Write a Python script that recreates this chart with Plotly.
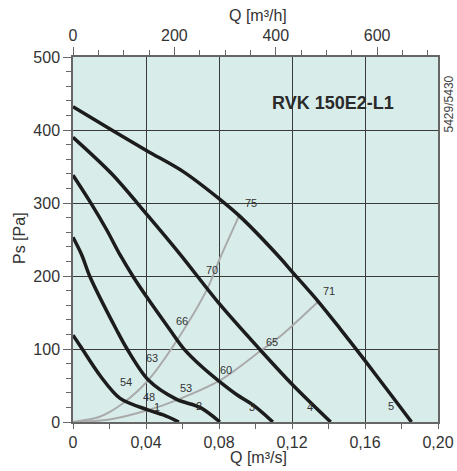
import plotly.graph_objects as go

# ---- data ----
c1_q = [0, 0.0048, 0.015, 0.0258, 0.0413, 0.0495, 0.0580]
c1_p = [119, 101, 63, 32.4, 16.4, 9.6, 0]
c2_q = [0, 0.0048, 0.0093, 0.0239, 0.0294, 0.0413, 0.0568, 0.0696, 0.0805]
c2_p = [253, 228.8, 199, 126, 101, 57.5, 31, 20, 0]
c3_q = [0, 0.0093, 0.0185, 0.0258, 0.033, 0.0409, 0.0532, 0.0605, 0.0705, 0.0805, 0.0900, 0.0988, 0.1095]
c3_p = [338, 301.8, 263, 228.8, 199, 169.4, 126, 101, 76, 55, 37, 23, 0]
c4_q = [0, 0.0212, 0.0409, 0.0586, 0.0805, 0.1025, 0.1207, 0.1412]
c4_p = [390, 340, 283, 230, 161, 99, 50, 0]
c5_q = [0, 0.0212, 0.0409, 0.0604, 0.0805, 0.0913, 0.1134, 0.1207, 0.1344, 0.1463, 0.16, 0.1737, 0.1855]
c5_p = [432, 400, 371, 343, 305, 282, 225, 204, 165, 128, 84, 39, 0]
curves_q = [c1_q, c2_q, c3_q, c4_q, c5_q]
curves_p = [c1_p, c2_p, c3_p, c4_p, c5_p]

sysA_q = [0, 0.015, 0.0276, 0.0413, 0.0541, 0.0733, 0.0805, 0.0911]
sysA_p = [0, 7.5, 26, 57.5, 101, 181, 224, 283]
sysB_q = [0, 0.02, 0.0413, 0.0568, 0.0805, 0.1034, 0.1134, 0.1344]
sysB_p = [0, 3.5, 16.4, 30, 57, 98.6, 117, 165]

label_text = ["75", "70", "66", "63", "54", "48", "1", "53", "2", "60", "3", "65", "4", "71", "5"]
label_q = [0.0974, 0.076, 0.0595, 0.0431, 0.029, 0.0418, 0.0462, 0.0619, 0.0692, 0.0838, 0.0979, 0.1089, 0.1299, 0.1405, 0.1742]
label_p = [299.6, 208, 139, 87, 55, 34.7, 21, 46, 22, 71, 21, 109, 21, 179.5, 22]

x_tickvals = [0, 0.04, 0.08, 0.12, 0.16, 0.20]
x_ticktext = ["0", "0,04", "0,08", "0,12", "0,16", "0,20"]
y_tickvals = [0, 100, 200, 300, 400, 500]
top_tickvals = [0, 200, 400, 600]

FONT = "Liberation Sans, Arial, sans-serif"
TXT = "#333333"

fig = go.Figure()
for q, p in [(sysA_q, sysA_p), (sysB_q, sysB_p)]:
    fig.add_trace(go.Scatter(x=q, y=p, mode="lines", line=dict(color="#aaaaaa", width=2, shape="spline", smoothing=0.9),
                             hoverinfo="skip", showlegend=False))
for q, p in zip(curves_q, curves_p):
    fig.add_trace(go.Scatter(x=q, y=p, mode="lines", line=dict(color="#1c1c1c", width=3.5, shape="spline", smoothing=0.9),
                             hoverinfo="skip", showlegend=False))
# invisible trace for the top axis
fig.add_trace(go.Scatter(x=[0, 720], y=[0, 0], xaxis="x2", mode="lines", line=dict(width=0),
                         hoverinfo="skip", showlegend=False, opacity=0))

for t, q, p in zip(label_text, label_q, label_p):
    fig.add_annotation(x=q, y=p, text=t, showarrow=False, xanchor="center", yanchor="middle",
                       font=dict(family=FONT, size=11, color=TXT))

fig.add_annotation(x=0.1425, y=437, text="<b>RVK 150E2-L1</b>", showarrow=False, xanchor="center", yanchor="middle",
                   font=dict(family=FONT, size=18, color="#2a2a2a"))


def paper_note(px, py, text, size, color=TXT, angle=0):
    fig.add_annotation(xref="paper", yref="paper", x=(px - 73) / 365, y=(422 - py) / 365, text=text,
                       textangle=angle, showarrow=False, xanchor="center", yanchor="middle",
                       font=dict(family=FONT, size=size, color=color))


paper_note(448.5, 104, "5429/5430", 12, "#444444", -90)
paper_note(258, 16, "Q [m³/h]", 16)
paper_note(258, 457, "Q [m³/s]", 16)
paper_note(19, 238, "Ps [Pa]", 16, TXT, -90)

axis_common = dict(showline=True, linecolor="#666666", linewidth=1.5, zeroline=False,
                   tickfont=dict(family=FONT, size=16, color=TXT), ticks="outside", tickcolor="#666666")

fig.update_layout(
    width=457, height=471,
    margin=dict(l=73, r=19, t=57, b=49, autoexpand=False),
    paper_bgcolor="white", plot_bgcolor="#d8edea",
    showlegend=False,
    xaxis=dict(range=[0, 0.2], tickvals=x_tickvals, ticktext=x_ticktext, ticklen=5,
               showgrid=True, gridcolor="#3a3a3a", gridwidth=1,
               minor=dict(dtick=0.02, tick0=0, ticks="outside", ticklen=5, tickcolor="#666666", showgrid=False),
               **axis_common),
    xaxis2=dict(range=[0, 720], overlaying="x", side="top", tickvals=top_tickvals, ticklen=8,
                showgrid=False,
                minor=dict(dtick=50, tick0=0, ticks="outside", ticklen=5, tickcolor="#666666", showgrid=False),
                **axis_common),
    yaxis=dict(range=[0, 500], tickvals=y_tickvals, ticklen=8, mirror=True,
               showgrid=True, gridcolor="#3a3a3a", gridwidth=1,
               minor=dict(dtick=20, tick0=0, ticks="outside", ticklen=5, tickcolor="#666666", showgrid=False),
               **axis_common),
)

fig.write_html("out.html", config={"displayModeBar": False},
               post_script="document.body.style.margin='0';document.body.style.overflow='hidden';")
